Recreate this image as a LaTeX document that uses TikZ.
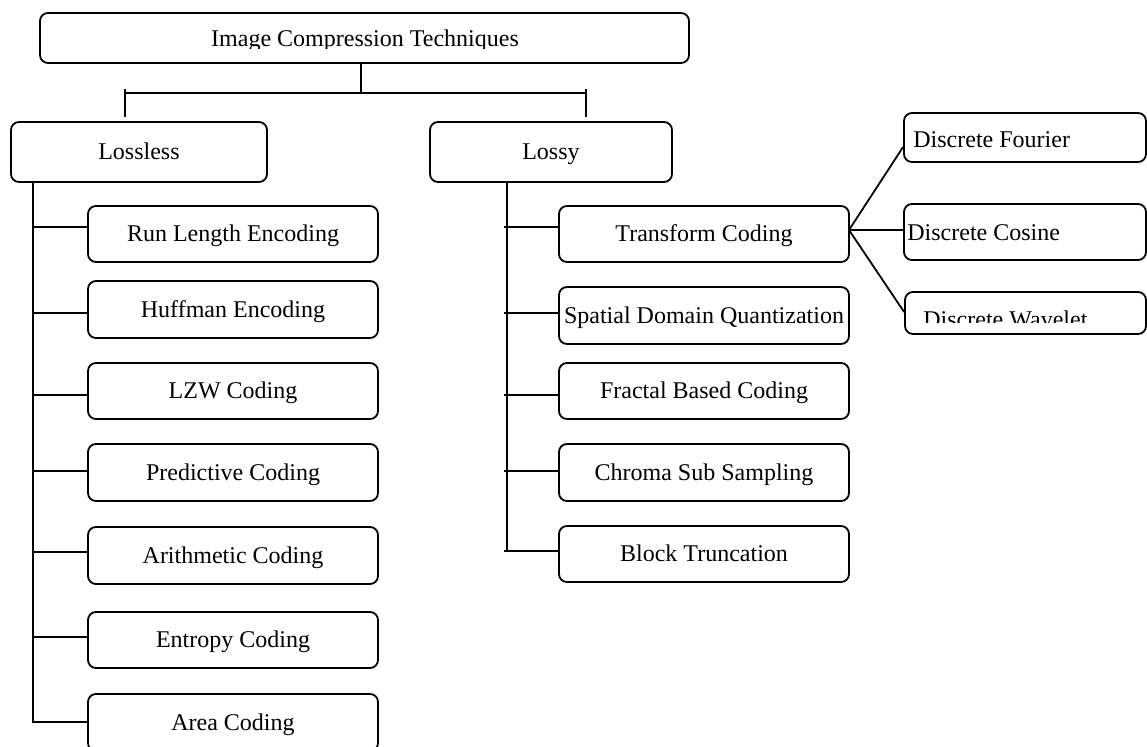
\documentclass[tikz,border=0pt]{standalone}
\usepackage{fontspec}
\setmainfont{Liberation Serif}
\begin{document}
\begin{tikzpicture}[x=0.5pt,y=-0.5pt,
  box/.style={draw, line width=0.9pt, rounded corners=4pt, inner sep=0pt, text height=9pt, text depth=1pt, font=\fontsize{12}{14}\selectfont},
  cbox/.style={box, minimum width=145pt},
  ln/.style={line width=0.9pt},
  lbl/.style={inner sep=0pt, font=\fontsize{12}{14}\selectfont}]
\clip (0,0) rectangle (1147,747);
\fill[white] (0,0) rectangle (1147,747);

% top
\node[box, minimum width=324.5pt, minimum height=25pt] (top) at (364.5,38) {};
\begin{scope}
\clip (40,14) rectangle (687,48.5);
\node[lbl, anchor=base] (toptxt) at (365,47) {Image Compression Techniques};
\end{scope}

% level 1
\node[box, minimum width=128pt, minimum height=30pt] (ll) at (139,152) {Lossless};
\node[box, minimum width=121pt, minimum height=30pt] (ly) at (551,152) {Lossy};

% lossless children
\node[cbox, minimum height=28pt]   (rle) at (233,234)   {Run Length Encoding};
\node[cbox, minimum height=28.5pt] (huf) at (233,309.5) {Huffman Encoding};
\node[cbox, minimum height=28pt]   (lzw) at (233,391)   {LZW Coding};
\node[cbox, minimum height=28.5pt] (pre) at (233,472.5) {Predictive Coding};
\node[cbox, minimum height=28.5pt] (ari) at (233,555.5) {Arithmetic Coding};
\node[cbox, minimum height=28pt]   (ent) at (233,640)   {Entropy Coding};
\node[cbox, minimum height=28.5pt] (are) at (233,722.5) {Area Coding};

% lossy children
\node[cbox, minimum height=28pt]   (tc)  at (704,234)   {Transform Coding};
\node[cbox, minimum height=28.5pt] (sdq) at (704,315.5) {Spatial Domain Quantization};
\node[cbox, minimum height=28pt]   (fbc) at (704,391)   {Fractal Based Coding};
\node[cbox, minimum height=28.5pt] (css) at (704,472.5) {Chroma Sub Sampling};
\node[cbox, minimum height=28pt]   (bt)  at (704,554)   {Block Truncation};

% transform children
\node[box, minimum width=121pt, minimum height=24.5pt] (df) at (1025,137.5) {};
\node[lbl, anchor=base west] (dft) at (913,148) {Discrete Fourier};
\node[box, minimum width=121pt, minimum height=28pt] (dc) at (1025,232) {};
\node[lbl, anchor=base west] (dct) at (907,241) {Discrete Cosine};
\node[box, minimum width=120.5pt, minimum height=21pt] (dw) at (1025.5,313) {};
\begin{scope}
\clip (906,293) rectangle (1145,323);
\node[lbl, anchor=base west] (dwt) at (923,328) {Discrete Wavelet};
\end{scope}

% top connectors
\coordinate (hub) at (361,93);
\coordinate (hl) at (125,93);
\coordinate (hr) at (586,93);
\draw[ln] (top.south -| hub) -- (hub);
\draw[ln] (hl) -- (hr);
\draw[ln] (125,89) coordinate (tla) -- (125,117) coordinate (tlb);
\draw[ln] (586,89) coordinate (tra) -- (586,117) coordinate (trb);

% lossless trunk
\coordinate (llend) at (33,723);
\draw[ln] (ll.south -| llend) -- (llend);
\foreach \n/\y in {rle/227, huf/313, lzw/395, pre/471, ari/552, ent/637, are/722}{
  \coordinate (s-\n) at (33,\y);
  \draw[ln] (s-\n) -- (s-\n -| \n.west);
}

% lossy trunk
\coordinate (lyend) at (507,551);
\draw[ln] (ly.south -| lyend) -- (lyend);
\foreach \n/\y in {tc/227, sdq/313, fbc/395, css/471, bt/551}{
  \coordinate (s-\n) at (504,\y);
  \draw[ln] (s-\n) -- (s-\n -| \n.west);
}

% fan
\coordinate (fan) at (849,230);
\draw[ln] (fan) -- (df.west |- 0,147);
\draw[ln] (fan) -- (fan -| dc.west);
\draw[ln] (fan) -- (dw.west |- 0,312);
\end{tikzpicture}
\end{document}
